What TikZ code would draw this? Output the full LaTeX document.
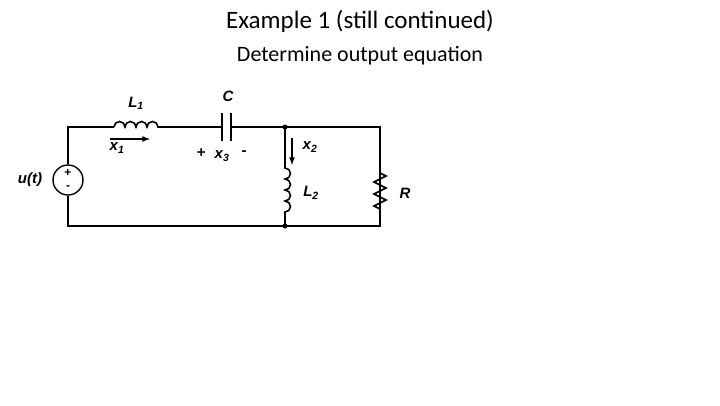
\documentclass[tikz,border=0pt]{standalone}
\usepackage{fontspec}
\setmainfont{Carlito}
\newfontfamily\lab{Liberation Sans}
\begin{document}
\begin{tikzpicture}[x=1pt,y=1pt,
  wire/.style={line width=1.6pt},
  sgn/.style={font=\lab\bfseries\fontsize{12}{12}\selectfont, inner sep=0pt},
  lbl/.style={font=\lab\bfseries\itshape\fontsize{15}{15}\selectfont, inner sep=0pt}]
\useasboundingbox (0,0) rectangle (720,-405);
\node (t1) at (360,-21) {\fontsize{25}{25}\selectfont Example 1 (still continued)};
\node (t2) at (360,-56) {\fontsize{22}{22}\selectfont Determine output equation};
% coordinates
\coordinate (TL) at (68,-127); \coordinate (BL) at (68,-226);
\coordinate (TM) at (285,-127); \coordinate (BM) at (285,-226);
\coordinate (TR) at (380,-127); \coordinate (BR) at (380,-226);
% source
\node[draw,circle,line width=1.4pt,minimum size=30pt,inner sep=0pt] (src) at (68,-180) {};
\node[sgn] (sp) at (68,-173) {+};
\node[sgn] (sm) at (68,-188) {-};
\draw[wire] (src.north) -- (TL) -- (114,-127);
\draw[wire] (src.south) -- (BL) -- (BR) -- (TR) -- (231,-127);
% L1
\draw[wire] (114,-127) arc(180:0:5.5) arc(180:0:5.5) arc(180:0:5.5) arc(180:0:5.5) -- (222,-127);
% capacitor
\draw[wire] (222,-113) -- (222,-141) (231,-113) -- (231,-141);
% L2
\draw[wire] (TM) -- (285,-168) arc(90:-90:5.5) arc(90:-90:5.5) arc(90:-90:5.5) arc(90:-90:5.5) -- (BM);
% R
\draw[wire] (TR) -- (380,-173) -- (386,-176) -- (374,-182) -- (386,-188) -- (374,-194) -- (386,-200) -- (374,-206) -- (380,-209) -- (BR);
\fill (TM) circle (2.5) (BM) circle (2.5);
% arrows
\draw[-latex,line width=1.6pt] (110,-139) -- (150,-139);
\draw[-latex,line width=1.6pt] (292,-138) -- (292,-165);
% labels
\node[lbl] at (136,-103) {L\textsubscript{\itshape 1}};
\node[lbl] at (228,-96) {C};
\node[lbl] at (117,-148) {x\textsubscript{\itshape 1}};
\node[lbl] at (310,-147) {x\textsubscript{\itshape 2}};
\node[lbl] at (201,-153) {+};
\node[lbl] at (222,-156) {x\textsubscript{\itshape 3}};
\node[lbl] at (244,-153) {-};
\node[lbl] at (311,-193) {L\textsubscript{\itshape 2}};
\node[lbl] at (405,-193) {R};
\node[lbl] at (30,-180) {u(t)};
\end{tikzpicture}
\end{document}
